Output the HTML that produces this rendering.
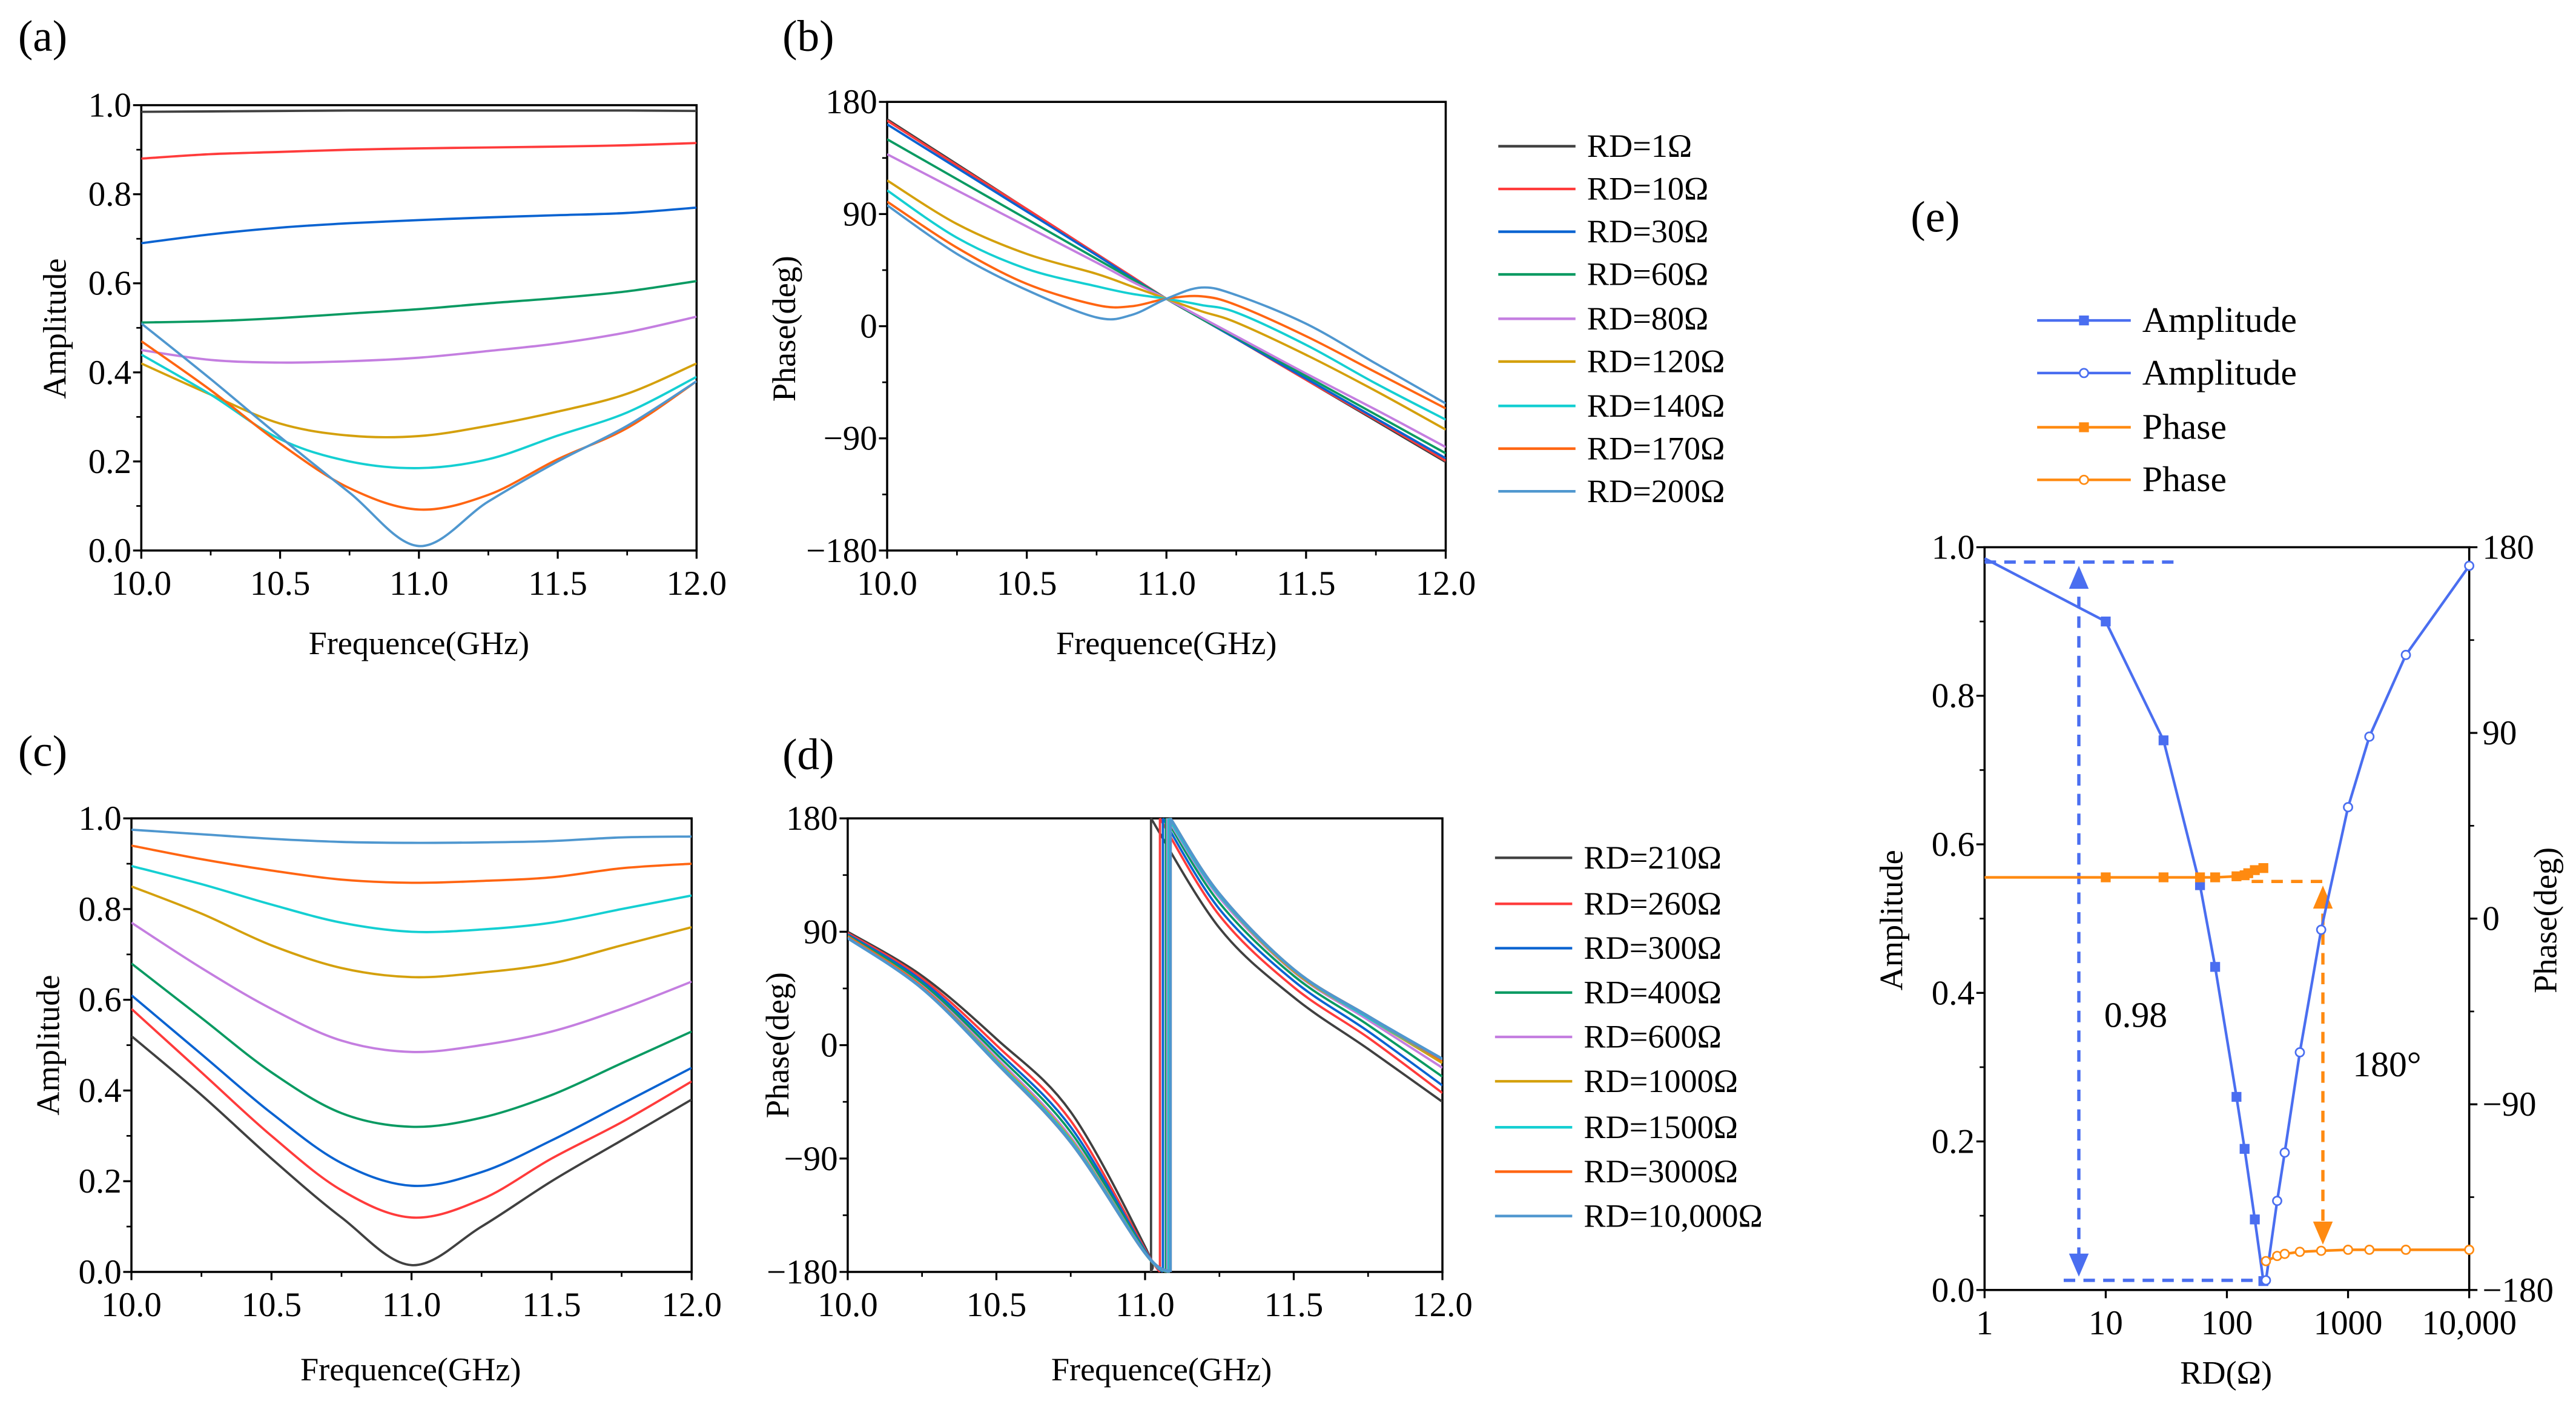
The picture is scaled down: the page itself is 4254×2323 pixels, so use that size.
<!DOCTYPE html>
<html><head><meta charset="utf-8"><style>
html,body{margin:0;padding:0;background:#fff;}
svg{display:block;}
text{font-family:"Liberation Serif","Times New Roman",serif;}
</style></head><body>
<svg id="chart" xmlns="http://www.w3.org/2000/svg" width="4254" height="2323" viewBox="0 0 1568 856.2" preserveAspectRatio="none" font-family="Liberation Serif, serif"></svg>
<script>
// ---------- data ----------
const freqAC = [10,10.25,10.5,10.75,11,11.25,11.5,11.75,12];
const labelsB = ['RD=1Ω','RD=10Ω','RD=30Ω','RD=60Ω','RD=80Ω','RD=120Ω','RD=140Ω','RD=170Ω','RD=200Ω'];
const labelsD = ['RD=210Ω','RD=260Ω','RD=300Ω','RD=400Ω','RD=600Ω','RD=1000Ω','RD=1500Ω','RD=3000Ω','RD=10,000Ω'];
const colors = ['#404040','#ff3b3b','#0a63d1','#0a9a62','#c47ee0','#d4a00c','#14cfd2','#ff6512','#4f97cf'];
const ampA_rd1 = [0.985,0.986,0.987,0.988,0.988,0.988,0.988,0.988,0.987];
const ampA_rd10 = [0.88,0.89,0.895,0.9,0.903,0.905,0.907,0.91,0.915];
const ampA_rd30 = [0.69,0.71,0.725,0.735,0.742,0.748,0.753,0.758,0.77];
const ampA_rd60 = [0.512,0.515,0.522,0.532,0.542,0.555,0.567,0.582,0.605];
const ampA_rd80 = [0.45,0.428,0.422,0.425,0.433,0.448,0.465,0.49,0.525];
const ampA_rd120 = [0.42,0.35,0.285,0.258,0.257,0.28,0.312,0.352,0.42];
const ampA_rd140 = [0.44,0.35,0.25,0.2,0.185,0.205,0.258,0.31,0.39];
const ampA_rd170 = [0.47,0.36,0.24,0.14,0.092,0.125,0.205,0.275,0.38];
const ampA_rd200 = [0.51,0.385,0.255,0.13,0.01,0.11,0.2,0.28,0.38];
const freqB = [10,10.25,10.5,10.75,10.875,11,11.125,11.25,11.5,11.75,12];
const phB_rd1 = [166,130,94,58,40,22,6,-10,-43,-76,-109];
const phB_rd10 = [165,129,94,58,40,22,6,-10,-43,-75,-108];
const phB_rd30 = [162,127,92,57,39,22,6,-10,-42,-74,-106];
const phB_rd60 = [150,118,86,54,38,22,6,-9,-40,-71,-102];
const phB_rd80 = [138,109,80,51,36,22,7,-8,-38,-67,-97];
const phB_rd120 = [117,82,58,42,32,22,12,3,-23,-52,-83];
const phB_rd140 = [109,71,46,32,26,22,17,11,-15,-46,-75];
const phB_rd170 = [100,63,34,17,16,22,24,17,-8,-37,-66];
const phB_rd200 = [97,58,29,7,9,22,31,25,2,-30,-62];
const ampC_rd210 = [0.52,0.39,0.25,0.12,0.015,0.1,0.2,0.29,0.38];
const ampC_rd260 = [0.58,0.44,0.3,0.18,0.12,0.16,0.25,0.33,0.42];
const ampC_rd300 = [0.61,0.48,0.35,0.24,0.19,0.22,0.29,0.37,0.45];
const ampC_rd400 = [0.68,0.56,0.44,0.35,0.32,0.34,0.39,0.46,0.53];
const ampC_rd600 = [0.77,0.67,0.58,0.51,0.485,0.5,0.53,0.58,0.64];
const ampC_rd1000 = [0.85,0.79,0.72,0.67,0.65,0.66,0.68,0.72,0.76];
const ampC_rd1500 = [0.895,0.855,0.81,0.77,0.75,0.755,0.77,0.8,0.83];
const ampC_rd3000 = [0.94,0.91,0.885,0.865,0.858,0.862,0.87,0.89,0.9];
const ampC_rd10000 = [0.975,0.965,0.955,0.948,0.946,0.947,0.95,0.958,0.96];
const preFreqD = [10,10.25,10.5,10.75,11];
const postFreqD = [11.25,11.5,11.75,12];
const jumpD = [11.02,11.05,11.06,11.07,11.075,11.08,11.08,11.085,11.085];
const preD_rd210 = [90,55,5,-53,-160];
const preD_rd260 = [89,53,0,-60,-162];
const preD_rd300 = [88,51,-4,-65,-163];
const preD_rd400 = [87,49,-7,-69,-164];
const preD_rd600 = [86,47,-10,-73,-165];
const preD_rd1000 = [86,46,-12,-75,-165];
const preD_rd1500 = [86,46,-13,-76,-165];
const preD_rd3000 = [86,46,-14,-77,-165];
const preD_rd10000 = [85,45,-14,-77,-165];
const postD_rd210 = [93,38,-3,-45];
const postD_rd260 = [103,46,6,-38];
const postD_rd300 = [108,51,11,-32];
const postD_rd400 = [113,55,16,-25];
const postD_rd600 = [117,58,20,-18];
const postD_rd1000 = [119,59,22,-14];
const postD_rd1500 = [119,60,22,-12];
const postD_rd3000 = [120,60,23,-12];
const postD_rd10000 = [120,60,23,-11];
const rdLow = [1,10,30,60,80,120,140,170,200];
const ampLow = [0.985,0.9,0.74,0.545,0.435,0.26,0.19,0.095,0.012];
const rdHigh = [210,260,300,400,600,1000,1500,3000,10000];
const ampHigh = [0.013,0.12,0.185,0.32,0.485,0.65,0.745,0.855,0.975];
const rdPhLow = [1,10,30,60,80,120,140,150,170,200];
const phLow = [20,20,20,20,20,20.5,21,22,23.5,24.5];
const rdPhHigh = [210,260,300,400,600,1000,1500,3000,10000];
const phHigh = [-166,-163.5,-162.5,-161.5,-161,-160.5,-160.5,-160.5,-160.5];

// ---------- helpers ----------
const NS='http://www.w3.org/2000/svg';
const svg=document.getElementById('chart');
function mk(tag, attrs, parent){const el=document.createElementNS(NS,tag);for(const k in attrs)el.setAttribute(k,attrs[k]);(parent||svg).appendChild(el);return el;}
function txt(x,y,s,size,anchor,name,rot){
  const el=mk('text',{x:x,y:y,'font-size':size,'text-anchor':anchor||'middle',fill:'#000','font-family':'Liberation Serif, serif'});
  if(rot)el.setAttribute('transform','rotate('+rot+' '+x+' '+y+')');
  el.textContent=s;
  
  
  return el;
}
function smooth(pts){
  if(pts.length<2)return '';
  let d='M'+pts[0][0].toFixed(2)+','+pts[0][1].toFixed(2);
  for(let i=0;i<pts.length-1;i++){
    const p0=pts[i-1]||pts[i],p1=pts[i],p2=pts[i+1],p3=pts[i+2]||p2;
    const c1=[p1[0]+(p2[0]-p0[0])/6,p1[1]+(p2[1]-p0[1])/6];
    const c2=[p2[0]-(p3[0]-p1[0])/6,p2[1]-(p3[1]-p1[1])/6];
    d+='C'+c1[0].toFixed(2)+','+c1[1].toFixed(2)+' '+c2[0].toFixed(2)+','+c2[1].toFixed(2)+' '+p2[0].toFixed(2)+','+p2[1].toFixed(2);
  }
  return d;
}
function linFn(d0,d1,r0,r1){return v=>r0+(v-d0)/(d1-d0)*(r1-r0);}
let clipId=0;
const TS=21;
function axes(p){
  const g=mk('g',{});
  
  
  const fr=mk('rect',{x:p.x0,y:p.y0,width:p.x1-p.x0,height:p.y1-p.y0,fill:'none',stroke:'#000','stroke-width':1.3},g);
  
  
  p.xticks.forEach((v,i)=>{
    const x=p.X(v);
    const t=mk('line',{x1:x,x2:x,y1:p.y1,y2:p.y1+5,stroke:'#000','stroke-width':1.2},g);
    
    
    txt(x,p.y1+27,p.xlabels[i],TS,'middle','x-tick-label');
  });
  (p.xminor||[]).forEach(v=>{
    const x=p.X(v);
    const t=mk('line',{x1:x,x2:x,y1:p.y1,y2:p.y1+3,stroke:'#000','stroke-width':1},g);
    
    
  });
  p.yticks.forEach((v,i)=>{
    const y=p.Y(v);
    const t=mk('line',{x1:p.x0-5,x2:p.x0,y1:y,y2:y,stroke:'#000','stroke-width':1.2},g);
    
    
    txt(p.x0-6,y+7,p.ylabels[i],TS,'end','y-tick-label');
  });
  (p.yminor||[]).forEach(v=>{
    const y=p.Y(v);
    const t=mk('line',{x1:p.x0-3,x2:p.x0,y1:y,y2:y,stroke:'#000','stroke-width':1},g);
    
    
  });
  const cid='clip'+(clipId++);
  const cp=mk('clipPath',{id:cid});
  mk('rect',{x:p.x0,y:p.y0-1,width:p.x1-p.x0,height:p.y1-p.y0+2},cp);
  const pg=mk('g',{'clip-path':'url(#'+cid+')'});
  
  
  return pg;
}
function line(parent,pts,color,name,w){
  const el=mk('path',{d:smooth(pts),fill:'none',stroke:color,'stroke-width':w||1.4,'stroke-linejoin':'round'},parent);
  
  
  return el;
}
function legend(x,ys,labels,name){
  labels.forEach((l,i)=>{
    const ln=mk('line',{x1:x,x2:x+47,y1:ys[i],y2:ys[i],stroke:colors[i],'stroke-width':1.6});
    
    
    txt(x+54,ys[i]+6.5,l,20,'start',name+'-label');
  });
}
const fLabels=['10.0','10.5','11.0','11.5','12.0'];
const fTicks=[10,10.5,11,11.5,12];
const fMinor=[10.25,10.75,11.25,11.75];
const aTicks=[0,0.2,0.4,0.6,0.8,1.0];
const aLabels=['0.0','0.2','0.4','0.6','0.8','1.0'];
const aMinor=[0.1,0.3,0.5,0.7,0.9];
const pTicks=[-180,-90,0,90,180];
const pLabels=['−180','−90','0','90','180'];
const pMinor=[-135,-45,45,135];

// ---------- panel (a) ----------
{
  const p={name:'panel-a',x0:86,x1:424,y0:64,y1:335};
  p.X=linFn(10,12,p.x0,p.x1);p.Y=linFn(0,1,p.y1,p.y0);
  Object.assign(p,{xticks:fTicks,xlabels:fLabels,xminor:fMinor,yticks:aTicks,ylabels:aLabels,yminor:aMinor});
  const g=axes(p);
  [ampA_rd1,ampA_rd10,ampA_rd30,ampA_rd60,ampA_rd80,ampA_rd120,ampA_rd140,ampA_rd170,ampA_rd200].forEach((s,i)=>{
    line(g,freqAC.map((f,j)=>[p.X(f),p.Y(s[j])]),colors[i],'amplitude-line-'+labelsB[i]);
  });
  txt(255,398,'Frequence(GHz)',20,'middle','x-axis-title-a');
  txt(40,200,'Amplitude',20,'middle','y-axis-title-a',-90);
  txt(26,31,'(a)',27,'middle','panel-label-a');
}
// ---------- panel (b) ----------
{
  const p={name:'panel-b',x0:540,x1:880,y0:62,y1:335};
  p.X=linFn(10,12,p.x0,p.x1);p.Y=linFn(-180,180,p.y1,p.y0);
  Object.assign(p,{xticks:fTicks,xlabels:fLabels,xminor:fMinor,yticks:pTicks,ylabels:pLabels,yminor:pMinor});
  const g=axes(p);
  [phB_rd1,phB_rd10,phB_rd30,phB_rd60,phB_rd80,phB_rd120,phB_rd140,phB_rd170,phB_rd200].forEach((s,i)=>{
    line(g,freqB.map((f,j)=>[p.X(f),p.Y(s[j])]),colors[i],'phase-line-'+labelsB[i]);
  });
  txt(710,398,'Frequence(GHz)',20,'middle','x-axis-title-b');
  txt(484,200,'Phase(deg)',20,'middle','y-axis-title-b',-90);
  txt(492,31,'(b)',27,'middle','panel-label-b');
  legend(912,[89,115,141,167,194,220,247,273,299],labelsB,'legend-b');
}
// ---------- panel (c) ----------
{
  const p={name:'panel-c',x0:80,x1:421,y0:498,y1:774};
  p.X=linFn(10,12,p.x0,p.x1);p.Y=linFn(0,1,p.y1,p.y0);
  Object.assign(p,{xticks:fTicks,xlabels:fLabels,xminor:fMinor,yticks:aTicks,ylabels:aLabels,yminor:aMinor});
  const g=axes(p);
  [ampC_rd210,ampC_rd260,ampC_rd300,ampC_rd400,ampC_rd600,ampC_rd1000,ampC_rd1500,ampC_rd3000,ampC_rd10000].forEach((s,i)=>{
    line(g,freqAC.map((f,j)=>[p.X(f),p.Y(s[j])]),colors[i],'amplitude-line-'+labelsD[i]);
  });
  txt(250,840,'Frequence(GHz)',20,'middle','x-axis-title-c');
  txt(36,636,'Amplitude',20,'middle','y-axis-title-c',-90);
  txt(26,466,'(c)',27,'middle','panel-label-c');
}
// ---------- panel (d) ----------
{
  const p={name:'panel-d',x0:516,x1:878,y0:498,y1:774};
  p.X=linFn(10,12,p.x0,p.x1);p.Y=linFn(-180,180,p.y1,p.y0);
  Object.assign(p,{xticks:fTicks,xlabels:fLabels,xminor:fMinor,yticks:pTicks,ylabels:pLabels,yminor:pMinor});
  const g=axes(p);
  const pres=[preD_rd210,preD_rd260,preD_rd300,preD_rd400,preD_rd600,preD_rd1000,preD_rd1500,preD_rd3000,preD_rd10000];
  const posts=[postD_rd210,postD_rd260,postD_rd300,postD_rd400,postD_rd600,postD_rd1000,postD_rd1500,postD_rd3000,postD_rd10000];
  pres.forEach((s,i)=>{
    const a=preFreqD.map((f,j)=>[p.X(f),p.Y(s[j])]);a.push([p.X(jumpD[i]),p.Y(-180)]);
    const b=[[p.X(jumpD[i]),p.Y(180)]].concat(postFreqD.map((f,j)=>[p.X(f),p.Y(posts[i][j])]));
    const w=(i>=5)?1.8:1.4;
    line(g,a,colors[i],'phase-line-pre-'+labelsD[i],w);
    const j=mk('line',{x1:p.X(jumpD[i]),x2:p.X(jumpD[i]),y1:p.Y(-180),y2:p.Y(180),stroke:colors[i],'stroke-width':w},g);
    
    
    line(g,b,colors[i],'phase-line-post-'+labelsD[i],w);
  });
  txt(707,840,'Frequence(GHz)',20,'middle','x-axis-title-d');
  txt(480,636,'Phase(deg)',20,'middle','y-axis-title-d',-90);
  txt(492,468,'(d)',27,'middle','panel-label-d');
  legend(910,[522,550,577,604,631,658,686,713,740],labelsD,'legend-d');
}
// ---------- panel (e) ----------
{
  const p={name:'panel-e',x0:1208,x1:1503,y0:333,y1:785};
  p.X=v=>p.x0+Math.log10(v)/4*(p.x1-p.x0);p.Y=linFn(0,1,p.y1,p.y0);
  const YP=linFn(-180,180,p.y1,p.y0);
  Object.assign(p,{xticks:[1,10,100,1000,10000],xlabels:['1','10','100','1000','10,000'],yticks:aTicks,ylabels:aLabels,yminor:aMinor});
  const g=axes(p);
  pTicks.forEach((v,i)=>{
    const t=mk('line',{x1:p.x1,x2:p.x1+5,y1:YP(v),y2:YP(v),stroke:'#000','stroke-width':1.2});
    
    
    txt(p.x1+8,YP(v)+7,pLabels[i],TS,'start','right-y-tick-label');
  });
  pMinor.forEach(v=>{
    const t=mk('line',{x1:p.x1,x2:p.x1+3,y1:YP(v),y2:YP(v),stroke:'#000','stroke-width':1});
    
    
  });
  const blue='#4a6ef0',orange='#ff8a10';
  const dash=(x1,y1,x2,y2,c,n)=>{const l=mk('line',{x1:x1,y1:y1,x2:x2,y2:y2,stroke:c,'stroke-width':2,'stroke-dasharray':'7,5'});};
  const head=(x,y,dir,c,n)=>{const h=mk('polygon',{points:(x-6)+','+(y+dir*14)+' '+(x+6)+','+(y+dir*14)+' '+x+','+y,fill:c});};
  dash(p.X(1),p.Y(0.98),p.X(40),p.Y(0.98),blue,'amplitude-max-guide');
  dash(p.X(4.5),p.Y(0.013),p.X(200),p.Y(0.013),blue,'amplitude-min-guide');
  dash(p.X(6),p.Y(0.96),p.X(6),p.Y(0.035),blue,'amplitude-range-arrow');
  head(p.X(6),p.Y(0.975),1,blue,'arrow-head-up');
  head(p.X(6),p.Y(0.018),-1,blue,'arrow-head-down');
  dash(p.X(160),YP(18),p.X(680),YP(18),orange,'phase-guide');
  dash(p.X(620),YP(12),p.X(620),YP(-150),orange,'phase-range-arrow');
  head(p.X(620),YP(16),1,orange,'phase-arrow-head-up');
  head(p.X(620),YP(-158),-1,orange,'phase-arrow-head-down');
  const ampPts=rdLow.map((r,j)=>[p.X(r),p.Y(ampLow[j])]).concat(rdHigh.map((r,j)=>[p.X(r),p.Y(ampHigh[j])]));
  const al=mk('polyline',{points:ampPts.map(q=>q.join(',')).join(' '),fill:'none',stroke:blue,'stroke-width':1.6});
  
  
  const phPts=rdPhLow.map((r,j)=>[p.X(r),YP(phLow[j])]).concat(rdPhHigh.map((r,j)=>[p.X(r),YP(phHigh[j])]));
  const pl1=mk('polyline',{points:phPts.slice(0,rdPhLow.length).map(q=>q.join(',')).join(' '),fill:'none',stroke:orange,'stroke-width':1.6});
  
  
  const pl2=mk('polyline',{points:phPts.slice(rdPhLow.length).map(q=>q.join(',')).join(' '),fill:'none',stroke:orange,'stroke-width':1.6});
  
  
  rdLow.forEach((r,j)=>{if(j===0)return;const m=mk('rect',{x:p.X(r)-3,y:p.Y(ampLow[j])-3,width:6,height:6,fill:blue});});
  rdHigh.forEach((r,j)=>{const m=mk('circle',{cx:p.X(r),cy:p.Y(ampHigh[j]),r:2.6,fill:'#fff',stroke:blue,'stroke-width':1});});
  rdPhLow.forEach((r,j)=>{if(j===0)return;const m=mk('rect',{x:p.X(r)-3,y:YP(phLow[j])-3,width:6,height:6,fill:orange});});
  rdPhHigh.forEach((r,j)=>{const m=mk('circle',{cx:p.X(r),cy:YP(phHigh[j]),r:2.6,fill:'#fff',stroke:orange,'stroke-width':1});});
  txt(1300,625,'0.98',22,'middle','amplitude-diff-annotation');
  txt(1453,655,'180°',22,'middle','phase-diff-annotation');
  txt(1355,842,'RD(Ω)',20,'middle','x-axis-title-e');
  txt(1158,560,'Amplitude',20,'middle','y-axis-title-e',-90);
  txt(1556,560,'Phase(deg)',20,'middle','right-y-axis-title-e',-90);
  txt(1178,141,'(e)',27,'middle','panel-label-e');
  const legY=[195,227,260,292], legC=[blue,blue,orange,orange], legT=['Amplitude','Amplitude','Phase','Phase'], legF=[1,0,1,0];
  legY.forEach((y,i)=>{
    const l=mk('line',{x1:1240,x2:1297,y1:y,y2:y,stroke:legC[i],'stroke-width':1.6});
    
    
    const m=legF[i]?mk('rect',{x:1265.5,y:y-3,width:6,height:6,fill:legC[i]}):mk('circle',{cx:1268.5,cy:y,r:2.6,fill:'#fff',stroke:legC[i],'stroke-width':1});
    
    
    txt(1304,y+7,legT[i],22,'start','legend-e-label');
  });
}
</script>
</body></html>
